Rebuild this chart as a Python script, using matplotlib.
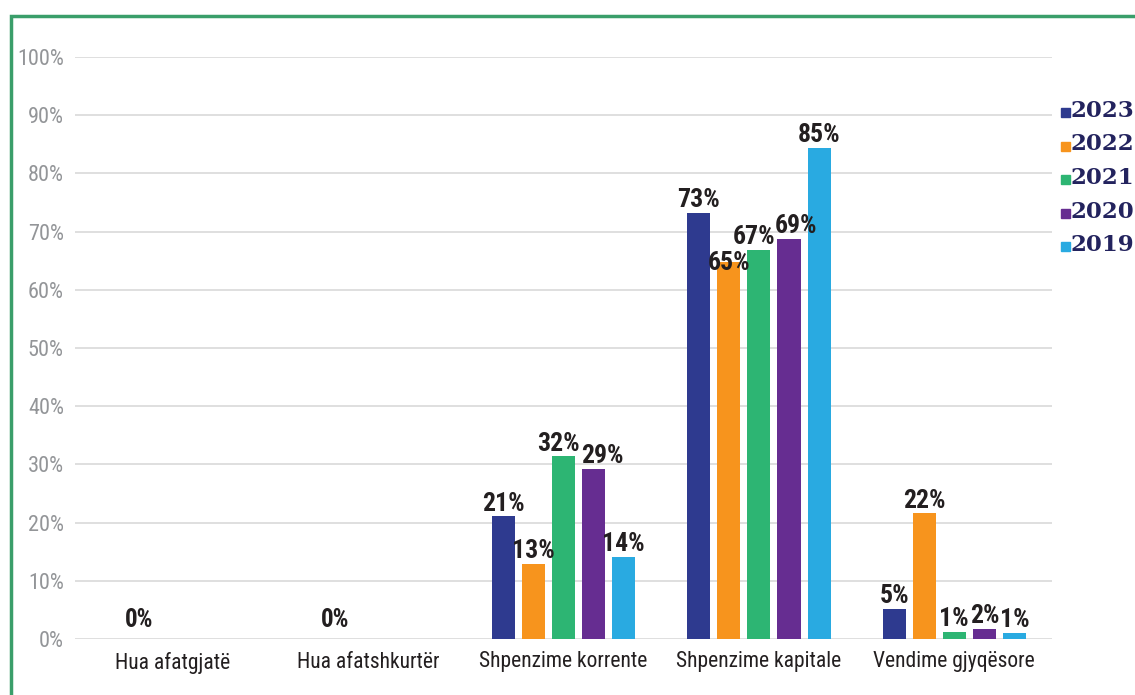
import matplotlib
matplotlib.use("Agg")
import matplotlib.pyplot as plt
import numpy as np
from matplotlib.patches import Rectangle

categories = ["Hua afatgjatë", "Hua afatshkurtër", "Shpenzime korrente",
              "Shpenzime kapitale", "Vendime gjyqësore"]
years = ["2023", "2022", "2021", "2020", "2019"]
colors = ["#2e3a8f", "#f7941d", "#2db573", "#662d91", "#29aae1"]

v2023 = [0, 0, 21.1, 73.2, 5.2]
v2022 = [0, 0, 12.9, 64.8, 21.6]
v2021 = [0, 0, 31.4, 66.9, 1.2]
v2020 = [0, 0, 29.2, 68.7, 1.7]
v2019 = [0, 0, 14.1, 84.4, 1.0]
series = [v2023, v2022, v2021, v2020, v2019]

lab2023 = ["0%", "0%", "21%", "73%", "5%"]
lab2022 = ["", "", "13%", "65%", "22%"]
lab2021 = ["", "", "32%", "67%", "1%"]
lab2020 = ["", "", "29%", "69%", "2%"]
lab2019 = ["", "", "14%", "85%", "1%"]
labels = [lab2023, lab2022, lab2021, lab2020, lab2019]

yticks = list(range(0, 101, 10))
ytick_labels = [f"{t}%" for t in yticks]

W, H = 1135, 695
fig = plt.figure(figsize=(W / 100, H / 100), dpi=100)
ax = fig.add_axes([75 / W, 1 - 639 / H, (1052 - 75) / W, (639 - 57) / H])

cond = ["Roboto Condensed", "DejaVu Sans"]
x = np.arange(len(categories))
step = 0.154
bw = 0.118
# label nudges (series index, category index) -> (dx, dy) in points
nudge = {(2, 2): (-3.5, 0), (3, 2): (6, 0), (2, 3): (-3.5, 0), (3, 3): (5, 0),
         (1, 3): (0, -10)}
for i, (vals, col, labs) in enumerate(zip(series, colors, labels)):
    pos = x + (i - 2) * step
    ax.bar(pos, vals, width=bw, color=col, zorder=3)
    for j, (p, v, l) in enumerate(zip(pos, vals, labs)):
        if not l:
            continue
        if v == 0:
            ax.annotate(l, (x[j] - 0.17, v), xytext=(0, 5), textcoords="offset points",
                        ha="center", va="bottom", fontsize=18, fontweight=600,
                        color="#231f20", family=cond)
        else:
            dx, dy = nudge.get((i, j), (0, 0))
            ax.annotate(l, (p, v), xytext=(dx, dy + 0.5), textcoords="offset points",
                        ha="center", va="bottom", fontsize=18.5, fontweight=600,
                        color="#231f20", family=cond, zorder=5)

ax.set_xlim(-0.5, len(categories) - 0.5)
ax.set_ylim(0, 100)
ax.set_yticks(yticks)
ax.set_yticklabels(ytick_labels, family=cond, fontsize=16, color="#939598")
ax.set_xticks(x)
ax.set_xticklabels(categories, family=cond, fontsize=15.5, color="#231f20")
ax.tick_params(axis="both", length=0)
ax.tick_params(axis="y", pad=8)
ax.tick_params(axis="x", pad=9)
ax.grid(axis="y", color="#d9d9d9", linewidth=1.2, zorder=0)
for s in ax.spines.values():
    s.set_visible(False)

# legend (manual, at the right edge like the reference)
ly0 = 111
for i, (yr, col) in enumerate(zip(years, colors)):
    yc = ly0 + i * 33.5
    fig.patches.append(Rectangle((1061 / W, 1 - (yc + 6) / H), 9 / W, 9 / H,
                                 transform=fig.transFigure, color=col))
    fig.text(1071 / W, 1 - yc / H, yr, ha="left", va="center", fontsize=16.5,
             fontweight="bold", family=["DejaVu Serif"],
             color="#23235e")

# green frame
fig.patches.append(Rectangle((11 / W, -0.05), 1.2, 1 - 16 / H + 0.05,
                             transform=fig.transFigure, fill=False,
                             edgecolor="#3a9e6a", linewidth=2.5))

fig.savefig("out.png", dpi=100)
